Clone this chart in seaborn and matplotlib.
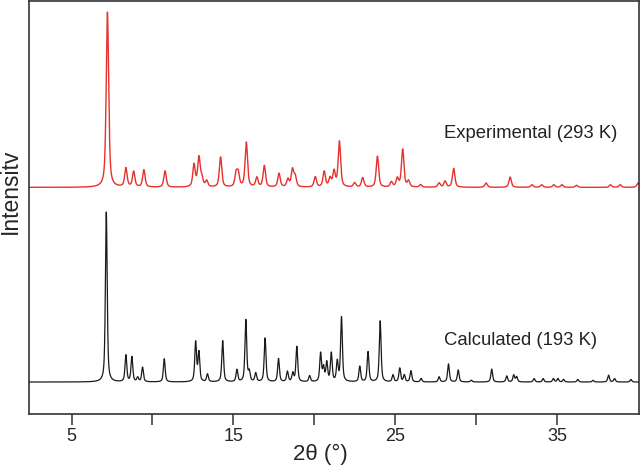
import matplotlib.pyplot as plt
import seaborn as sns
import numpy as np
import pandas as pd

# peak positions (2theta, deg) and heights
exp_pos = [7.22, 8.36, 8.84, 9.47, 10.78, 12.57, 12.87, 13.05, 13.35, 14.21,
           15.17, 15.30, 15.80, 16.45, 16.91, 17.82, 18.37, 18.65, 18.82,
           20.06, 20.61, 20.97, 21.22, 21.55, 22.49, 22.99, 23.90, 24.76,
           25.13, 25.46, 25.82, 26.57, 27.71, 28.08, 28.61, 30.61, 32.10,
           33.45, 34.05, 34.80, 35.30, 36.20, 38.30, 38.90, 40.0]
exp_int = [102, 11, 9, 10, 9.5, 13, 17, 5, 3.5, 17.5,
           7.5, 7.5, 26, 5.5, 12.5, 8, 4.5, 10, 6,
           6, 9, 5, 9, 26.5, 2.5, 5.5, 18, 3,
           5, 22, 3.5, 1.5, 2.5, 3.5, 11, 2.5, 6,
           1.5, 1.5, 1.5, 1.5, 1.2, 1.5, 1.5, 2.5]

calc_pos = [7.15, 8.36, 8.73, 9.09, 9.39, 10.73, 12.67, 12.87, 13.40, 14.34,
            15.22, 15.77, 15.98, 16.38, 16.96, 17.79, 18.34, 18.67, 18.92,
            19.71, 20.39, 20.57, 20.77, 21.05, 21.42, 21.68, 22.81, 23.32,
            24.07, 24.86, 25.28, 25.56, 25.97, 26.60, 27.71, 28.29, 28.89,
            29.70, 30.96, 31.89, 32.32, 32.50, 33.58, 34.14, 34.77, 35.05,
            35.40, 36.28, 37.22, 38.18, 38.55, 39.56]
calc_int = [99, 15.5, 14.5, 2.5, 8.5, 13.5, 23, 17, 4.5, 24,
            7, 36, 5.5, 5, 25.5, 13.5, 6, 5, 20.5,
            3.5, 16.5, 8, 11, 16.5, 11.5, 37.5, 9, 17.5,
            35.5, 4, 8, 4, 6.5, 2, 3, 10.5, 7,
            1, 7.5, 3.5, 4, 3, 2, 2, 2, 2,
            1.5, 1.5, 1, 4, 2, 1.5]

offset = 113.4  # vertical shift of the experimental trace

tt = np.arange(2.35, 40.06, 0.005)


def pattern(pos, inten, fwhm, eta=0.6):
    y = np.zeros_like(tt)
    for p, h in zip(pos, inten):
        d = (tt - p) / (fwhm / 2)
        y += h * (eta / (1 + d**2) + (1 - eta) * np.exp(-np.log(2) * d**2))
    return y


df = pd.DataFrame({'tt': tt,
                   'calc': pattern(calc_pos, calc_int, 0.13),
                   'exp': pattern(exp_pos, exp_int, 0.18) + offset})

sns.set_style('white')
plt.rcParams['font.family'] = ['Liberation Sans', 'DejaVu Sans']

fig = plt.figure(figsize=(6.4, 4.67), dpi=100)
ax = fig.add_axes([0.0447, 0.1135, 0.9535, 0.8845])

sns.lineplot(data=df, x='tt', y='exp', ax=ax, color='#e8302c', lw=1.0,
             estimator=None)
sns.lineplot(data=df, x='tt', y='calc', ax=ax, color='#1a1a1a', lw=0.9,
             estimator=None)

ax.set_xlim(2.35, 40.05)
ax.set_ylim(-18.6, 222)
ax.set_yticks([])
ax.set_xticks([5, 10, 15, 20, 25, 30, 35])
ax.set_xticklabels(['5', '', '15', '', '25', '', '35'])
ax.tick_params(axis='x', direction='out', length=8, width=1.1,
               color='#333333', labelsize=13, pad=2, bottom=True)
for s in ax.spines.values():
    s.set_color('#333333')
    s.set_linewidth(1.2)

ax.set_xlabel('')
ax.set_ylabel('')
fig.text(0.5, 0.004, '2θ (°)', fontsize=16, ha='center', va='bottom')
fig.text(10 / 640, 0.59, 'Intensitv', rotation=90, fontsize=16.5,
         ha='center', va='center')

ax.text(28.0, 145, 'Experimental (293 K)', fontsize=13.3, color='#222222',
        va='center')
ax.text(28.0, 24, 'Calculated (193 K)', fontsize=13.3, color='#222222',
        va='center')

fig.savefig('out.png', dpi=100)
